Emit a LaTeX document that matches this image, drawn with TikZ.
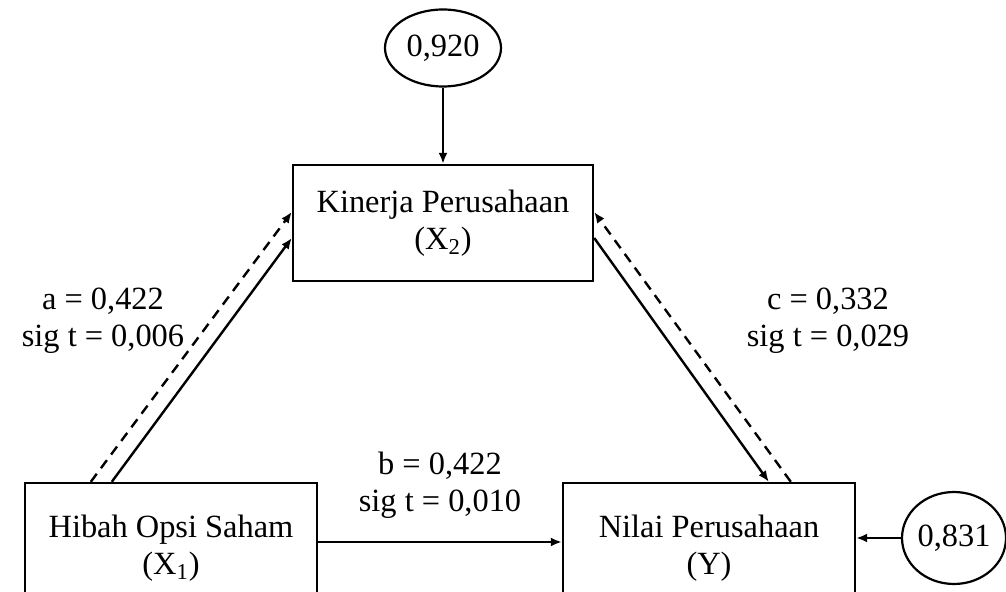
\documentclass[tikz,border=0pt]{standalone}
\usepackage{fontspec}
\setmainfont{Liberation Serif}
\usetikzlibrary{shapes.geometric,arrows.meta}

\begin{document}
\begin{tikzpicture}[x=0.5pt,y=-0.5pt,
    every node/.style={font=\fontsize{16.2}{18.5}\selectfont},
    varbox/.style={draw,line width=1.2pt,minimum width=146pt,align=center,inner sep=0pt},
    errnode/.style={draw,ellipse,line width=1.1pt,inner sep=0pt},
    jalur/.style={line width=1.2pt,-{Latex[length=5.5pt,width=4.5pt]}},
    jalurputus/.style={jalur,dash pattern=on 5pt off 3.5pt}]

      \useasboundingbox (0,0) rectangle (1006,592);

      % variables and error terms
      \node[errnode,minimum width=58pt,minimum height=38.5pt] (e920) at (443,48) {0,920};
      \node[varbox,minimum width=150pt,minimum height=58pt] (x2) at (443,223) {Kinerja Perusahaan\\(X\textsubscript{2})};
      \node[varbox,minimum height=65pt] (x1) at (171,548) {Hibah Opsi Saham\\(X\textsubscript{1})};
      \node[varbox,minimum height=65pt] (y)  at (709,548) {Nilai Perusahaan\\(Y)};
      \node[errnode,minimum width=52pt,minimum height=46pt] (e831) at (954,538) {0,831};

      % coefficients
      \node[align=center] (la) at (103,321) {a = 0,422\\sig t = 0,006};
      \node[align=center] (lc) at (828,321) {c = 0,332\\sig t = 0,029};
      \node[align=center] (lb) at (440,485) {b = 0,422\\sig t = 0,010};

      % paths
      \draw[jalur] (e920) -- (x2);
      \draw[jalur] ([xshift=44pt]x1.north west) -- ([yshift=-7.5pt]x2.west);
      \draw[jalurputus] ([xshift=33.5pt]x1.north west) -- ([yshift=5.5pt]x2.west);
      \draw[jalur] ([yshift=-7.5pt]x2.east) -- ([xshift=103.5pt]y.north west);
      \draw[jalurputus] ([xshift=114.5pt]y.north west) -- ([yshift=5.5pt]x2.east);
      \draw[jalur] ([yshift=3pt]x1.east) -- ([yshift=3pt]y.west);
      \draw[jalur] (e831) -- (y.east |- e831);

    \end{tikzpicture}
\end{document}
